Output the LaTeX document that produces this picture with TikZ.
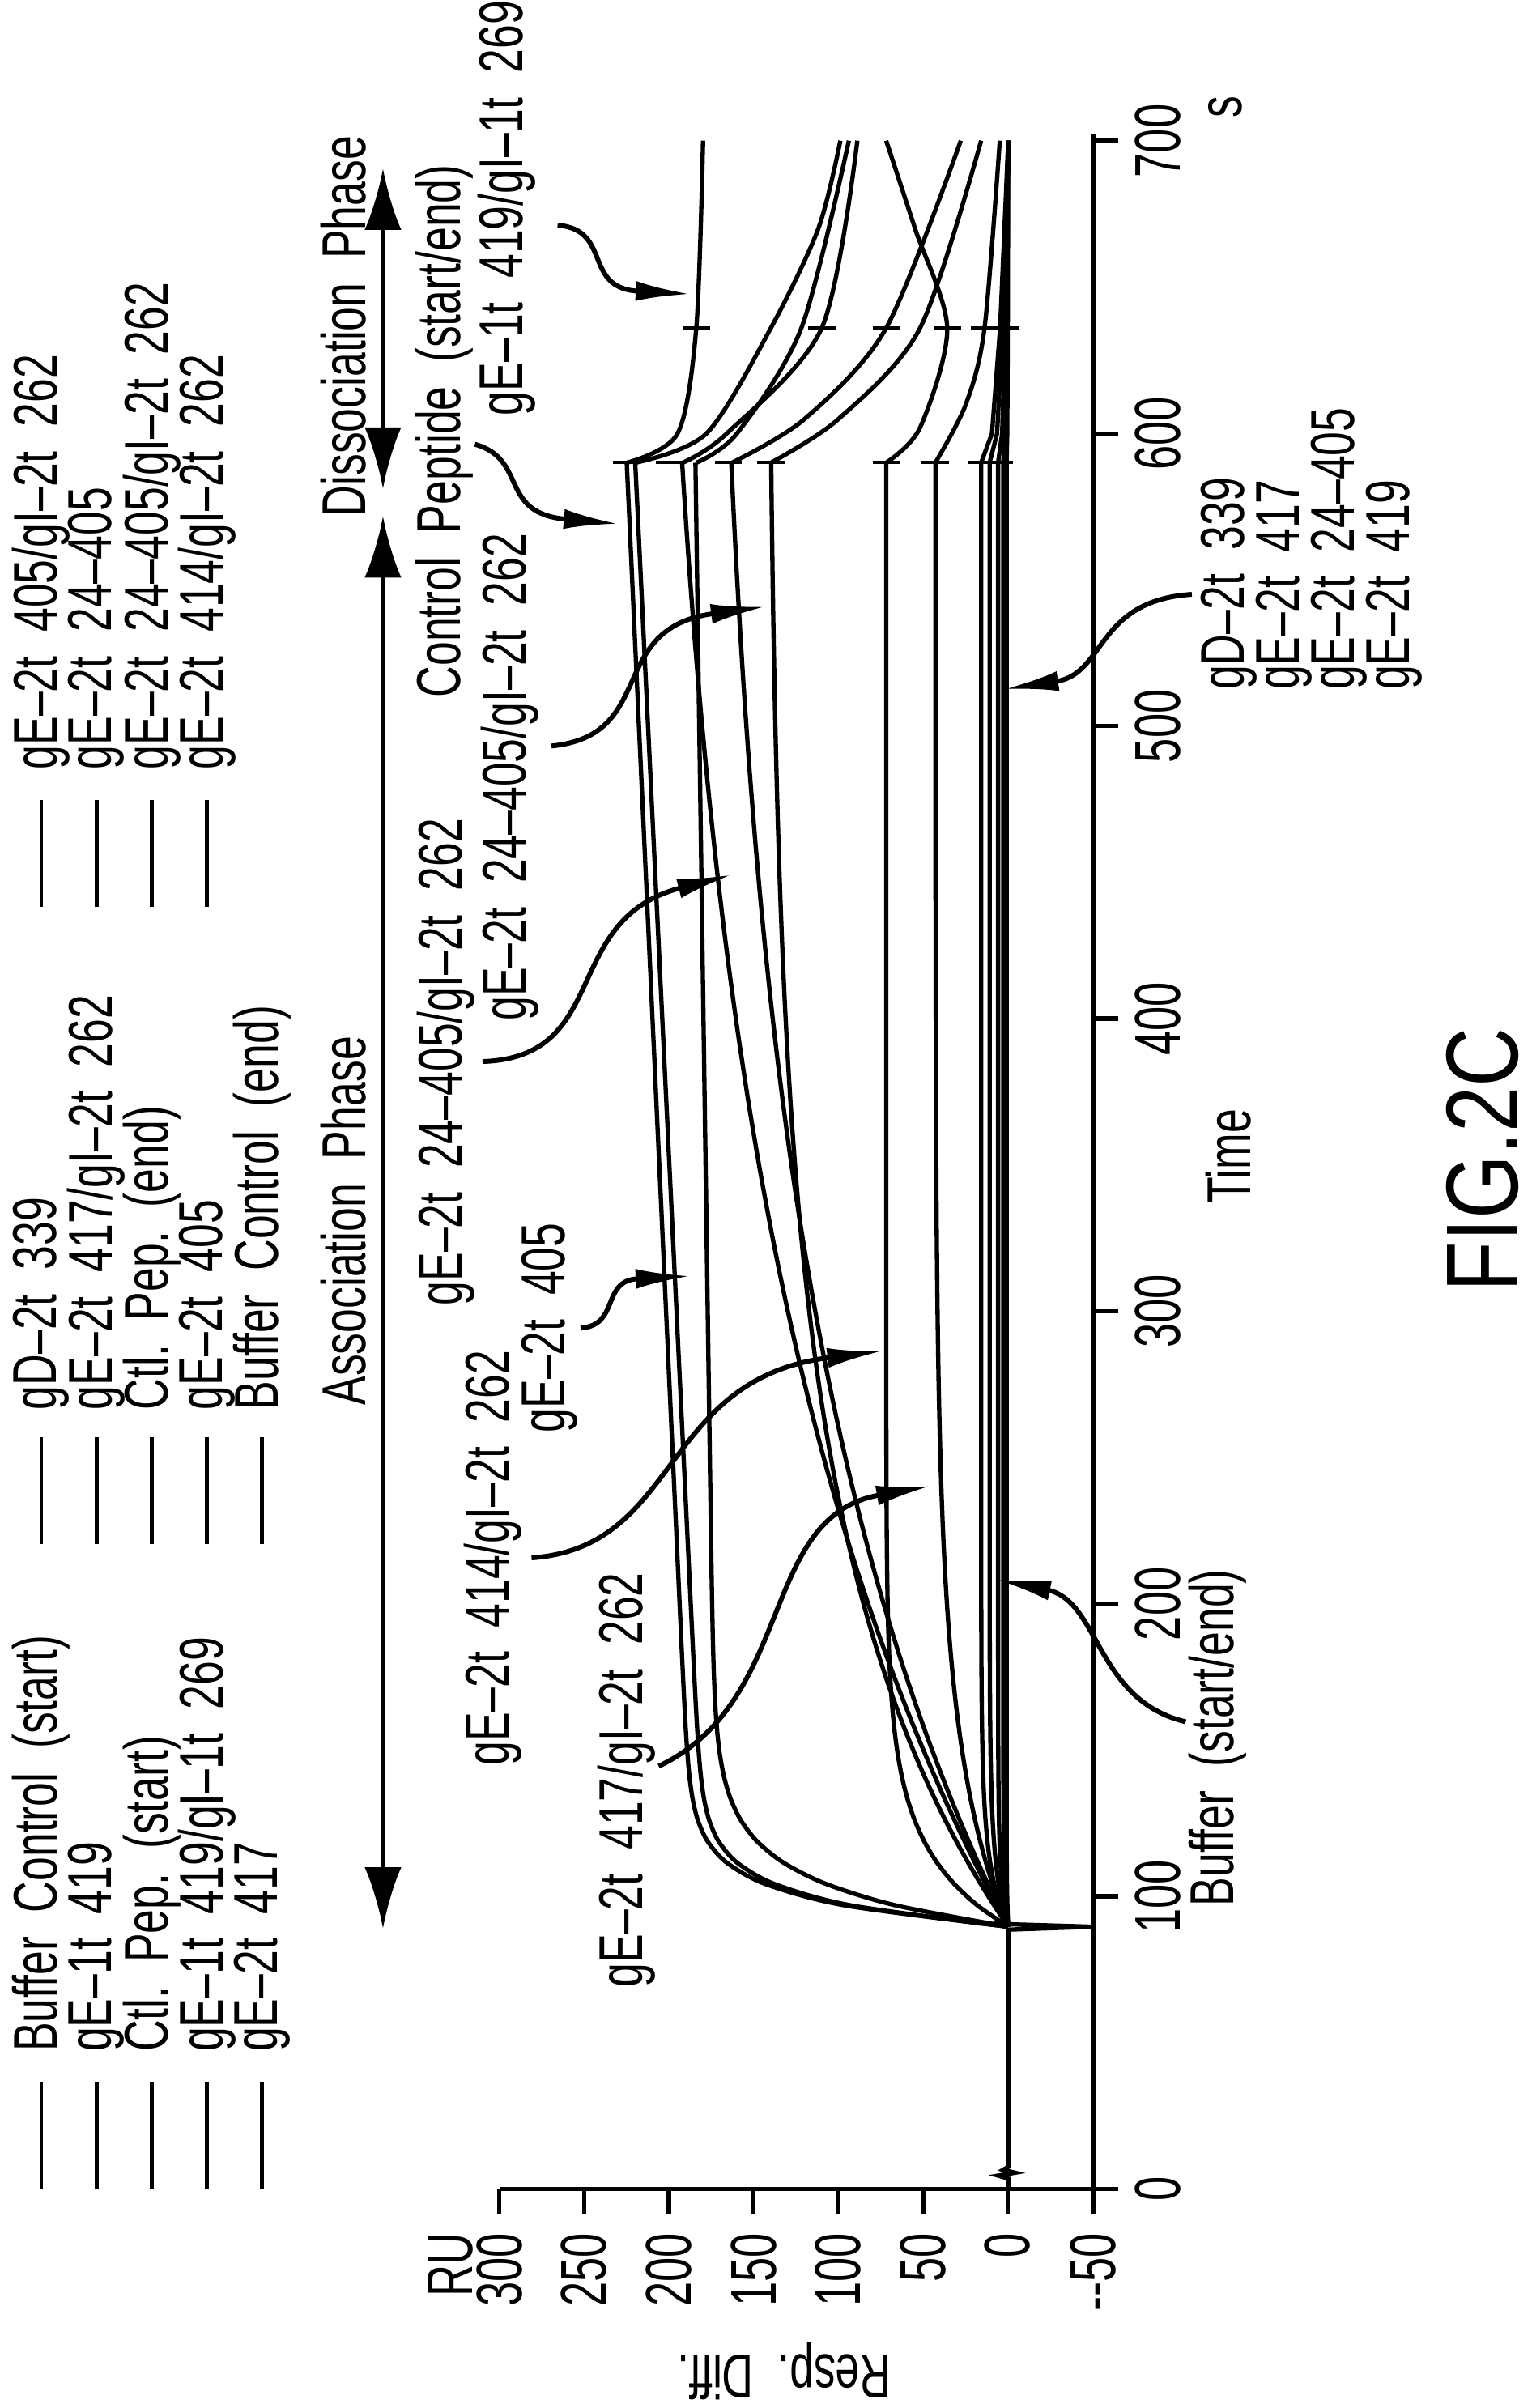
\documentclass[tikz,border=0pt]{standalone}
\usepackage{fontspec}
\setmainfont{Liberation Sans}[FakeStretch=0.7]
\newfontfamily\numfont{Liberation Sans}[FakeStretch=0.68]
\newfontfamily\figfont{Liberation Sans}[FakeStretch=0.8]
\usetikzlibrary{arrows.meta}
\begin{document}
\begin{tikzpicture}[x=0.01cm,y=-0.01cm,
  lbl/.style={rotate=90,anchor=west,inner sep=0pt,font=\fontsize{11.5}{12}\selectfont},
  tck/.style={rotate=90,anchor=center,inner sep=0pt,font=\numfont\fontsize{12}{12}\selectfont},
  crv/.style={line width=0.8pt},
  ann/.style={line width=0.9pt,-{Latex[length=3.6mm,width=1.3mm]}},
  leg/.style={line width=0.7pt}]
\useasboundingbox (0,0) rectangle (1000,1572);
% legend
\foreach \x/\t in {27/{Buffer~~Control~~(start)},63/{gE--1t~~419},99/{Ctl.~~Pep.~~(start)},135/{gE--1t~~419/gI--1t~~269},171/{gE--2t~~417}}{
  \draw[leg] (\x,1429) -- (\x,1359); \node[lbl] at (\x,1340) {\t};}
\foreach \x/\t in {27/{gD--2t~~339},63/{gE--2t~~417/gI--2t~~262},99/{Ctl.~~Pep.~~(end)},135/{gE--2t~~405},171/{Buffer~~Control~~(end)}}{
  \draw[leg] (\x,1008) -- (\x,938); \node[lbl] at (\x,921) {\t};}
\foreach \x/\t in {27/{gE--2t~~405/gI--2t~~262},63/{gE--2t~~24--405},99/{gE--2t~~24--405/gI--2t~~262},135/{gE--2t~~414/gI--2t~~262}}{
  \draw[leg] (\x,592) -- (\x,522); \node[lbl] at (\x,503) {\t};}
% phases
\coordinate (pa1) at (250,1259); \coordinate (pa2) at (250,337);
\coordinate (pd1) at (250,319); \coordinate (pd2) at (250,110);
\draw[line width=0.8pt,{Latex[length=4mm,width=2.4mm]}-{Latex[length=4mm,width=2.4mm]}] (pa1) -- (pa2);
\draw[line width=0.8pt,{Latex[length=4mm,width=2.4mm]}-{Latex[length=4mm,width=2.4mm]}] (pd1) -- (pd2);
\node[lbl,anchor=center] (asso) at (224,797) {Association~~Phase};
\node[lbl,anchor=center] (disso) at (224,213) {Dissociation~~Phase};
% axes
\draw[line width=0.9pt] (326,1429) -- (713.5,1429) -- (713.5,88);
\draw[line width=0.9pt] (713.5,1429) -- (713.5,1445);
\foreach \v in {300,250,200,150,100,50,0}{
  \pgfmathsetmacro\xx{326+(300-\v)*1.106}
  \draw[line width=0.8pt] (\xx,1429) -- (\xx,1445);
  \node[tck,anchor=east] at (\xx,1457) {\v};}
\node[tck,anchor=east] at (713.5,1457) {--50};
\foreach \t in {0,100,...,700}{
  \pgfmathsetmacro\yy{1429-\t*1.91}
  \draw[line width=0.8pt] (713.5,\yy) -- (730,\yy);
  \node[tck] at (756,\yy) {\t};}
\node[tck,anchor=east] (ru) at (294,1457) {RU};
\node[lbl,rotate=90,anchor=center] (rd) at (512,1548) {Resp.~~Diff.};
\node[lbl,anchor=center] (tm) at (802,755) {Time};
\node[lbl,anchor=center] (ss) at (800,70) {s};
\node[rotate=90,inner sep=0pt,font=\figfont\fontsize{19}{20}\selectfont] (fig) at (968,757) {FIG.2C};
% curves
\begin{scope}[shift={(6.578cm,-14.29cm)},x={(0cm,0.0191cm)},y={(-0.01106cm,0cm)}]
\draw[crv] (0,0) -- (4,0) -- (5,6) -- (6,-4) -- (7,3) -- (8,0) -- (89,0) -- (90,-50) -- (91,8) -- (92,0);
\foreach \A/\tau/\B in {185/10/0.08, 178/10/0.084, 172/15/0.025, 217/230/0, 180/210/0, 142/120/0, 72/25/0, 43/60/0, 16/20/0, 11/20/0, 6/15/0, 3/15/0, 1/10/0}{
  \draw[crv] plot[domain=90:590,samples=70,smooth] (\x,{\A*(1-exp(-(\x-90)/\tau))+\B*(\x-90)});}
% dissociation
\draw[crv] plot[smooth] coordinates {(590,225)(600,195)(636,184)(700,180)};
\draw[crv] plot[smooth] coordinates {(590,220)(600,178)(636,140)(670,112)(700,99)};
\draw[crv] plot[smooth] coordinates {(590,184)(600,160)(636,122)(700,94)};
\draw[crv] plot[smooth] coordinates {(590,192)(600,166)(636,110)(700,89)};
\draw[crv] plot[smooth] coordinates {(590,163)(605,120)(636,72)(700,28)};
\draw[crv] plot[smooth] coordinates {(590,140)(605,100)(636,52)(700,16)};
\draw[crv] plot[smooth] coordinates {(590,72)(602,52)(636,36)(670,55)(700,72)};
\draw[crv] plot[smooth] coordinates {(590,43)(610,25)(636,14)(700,5)};
\foreach \e in {16,11,6,3,1}{\draw[crv] (590,\e) -- (600,{\e*0.6}) -- (636,{\e*0.3}) -- (700,0);}
% spikes
\foreach \v in {225,200,165,140,72,43,16,5}{\draw[line width=0.6pt] (590,\v+8) -- (590,\v-8);}
\foreach \v in {184,110,72,36,14,2}{\draw[line width=0.6pt] (636,\v+8) -- (636,\v-8);}
\end{scope}
% annotations
\node[lbl] (tcp) at (290,456) {Control~~Peptide~~(start/end)};
\node[lbl] (t419) at (331,272) {gE--1t~~419/gI--1t~~269};
\node[lbl] (tu) at (333,667) {gE--2t~~24--405/gI--2t~~262};
\node[lbl] (tl) at (291,853) {gE--2t~~24--405/gI--2t~~262};
\node[lbl] (t405) at (359,936) {gE--2t~~405};
\node[lbl] (t414) at (322,1153) {gE--2t~~414/gI--2t~~262};
\node[lbl] (t417) at (409,1298) {gE--2t~~417/gI--2t~~262};
\node[lbl] (tbuf) at (795,1245) {Buffer~~(start/end)};
\node[lbl] (g1) at (802,451) {gD--2t~~339};
\node[lbl] (g2) at (838,451) {gE--2t~~417};
\node[lbl] (g3) at (874,451) {gE--2t~~24--405};
\node[lbl] (g4) at (910,451) {gE--2t~~419};
\coordinate (a1) at (310,290); \coordinate (a1t) at (404,342);
\coordinate (a2) at (364,147); \coordinate (a2t) at (451,192);
\coordinate (a3) at (360,487); \coordinate (a3t) at (500,396);
\coordinate (a4) at (315,693); \coordinate (a4t) at (478,571);
\coordinate (a5) at (379,867); \coordinate (a5t) at (451,833);
\coordinate (a6) at (347,1017); \coordinate (a6t) at (576,882);
\coordinate (a7) at (430,1153); \coordinate (a7t) at (608,970);
\coordinate (a8) at (774,1124); \coordinate (a8t) at (650,1031);
\coordinate (a9) at (778,388); \coordinate (a9t) at (655,450);
\draw[ann] (a1) .. controls (345,300) and (325,335) .. (a1t);
\draw[ann] (a2) .. controls (400,150) and (380,188) .. (a2t);
\draw[ann] (a3) .. controls (430,480) and (395,410) .. (a3t);
\draw[ann] (a4) .. controls (400,690) and (365,600) .. (a4t);
\draw[ann] (a5) .. controls (405,865) and (392,836) .. (a5t);
\draw[ann] (a6) .. controls (445,1010) and (430,900) .. (a6t);
\draw[ann] (a7) .. controls (520,1110) and (495,990) .. (a7t);
\draw[ann] (a8) .. controls (715,1110) and (718,1045) .. (a8t);
\draw[ann] (a9) .. controls (715,392) and (722,440) .. (a9t);
\end{tikzpicture}
\end{document}
